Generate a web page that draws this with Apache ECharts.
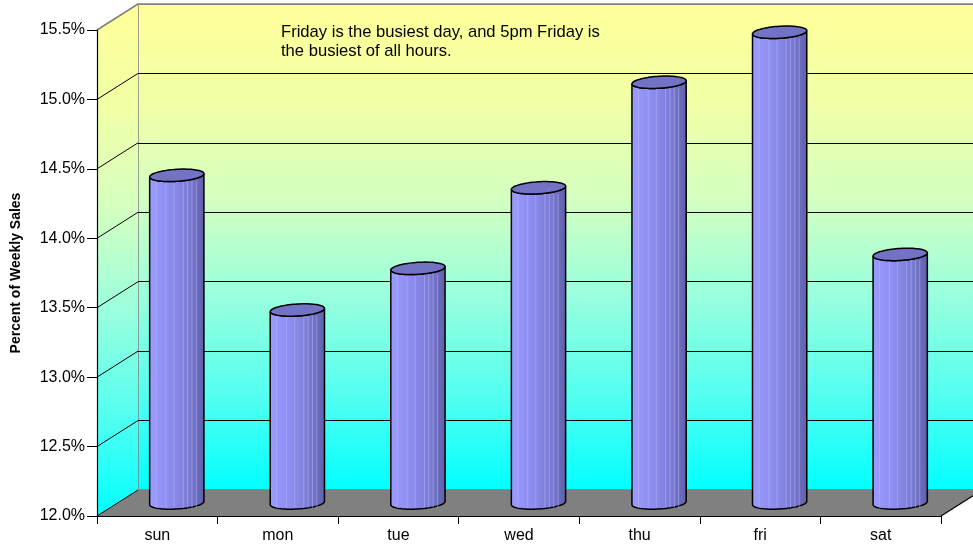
<!DOCTYPE html>
<html>
<head>
<meta charset="utf-8">
<title>Percent of Weekly Sales</title>
<script src="https://cdn.jsdelivr.net/npm/echarts@6/dist/echarts.min.js"></script>
<style>
  html, body { margin: 0; padding: 0; background: #fff; }
  #main { width: 973px; height: 548px; }
</style>
</head>
<body>
<div id="main"></div>
<script>
// 数据
var days = ['sun', 'mon', 'tue', 'wed', 'thu', 'fri', 'sat'];
var weeklyShare = [14.36, 13.39, 13.69, 14.27, 15.03, 15.39, 13.79];
var yTicks = [12.0, 12.5, 13.0, 13.5, 14.0, 14.5, 15.0, 15.5];
var noteLines = ['Friday is the busiest day, and 5pm Friday is', 'the busiest of all hours.'];

// 3D 斜投影偏移（前平面 -> 后墙）
var DX = 41, DY = -26;
var FONT = 'Liberation Sans, Arial, sans-serif';

var wallGradient = new echarts.graphic.LinearGradient(0, 0, 0, 1, [
  { offset: 0, color: '#FFFF99' },
  { offset: 0.2, color: '#F2FFA6' },
  { offset: 0.4, color: '#D4FFC0' },
  { offset: 0.6, color: '#99FFDD' },
  { offset: 0.8, color: '#55FFF0' },
  { offset: 1, color: '#00FFFF' }
]);

// 侧墙 + 地板
function renderBox(params, api) {
  var cs = params.coordSys;
  var xl = cs.x, xr = cs.x + cs.width;
  var yTop = api.coord([0, yTicks[yTicks.length - 1]])[1];
  var yBot = api.coord([0, yTicks[0]])[1];
  var children = [];

  children.push({
    type: 'polygon',
    shape: { points: [[xl, yTop], [xl + DX, yTop + DY], [xl + DX, yBot + DY], [xl, yBot]] },
    style: { fill: wallGradient, stroke: null }
  });
  // 侧墙网格线
  for (var i = 1; i < yTicks.length - 1; i++) {
    var y = api.coord([0, yTicks[i]])[1];
    children.push({
      type: 'line',
      shape: { x1: xl, y1: y, x2: xl + DX, y2: y + DY },
      style: { stroke: '#000', lineWidth: 1 }
    });
  }
  children.push({
    type: 'line',
    shape: { x1: xl, y1: yTop, x2: xl + DX, y2: yTop + DY },
    style: { stroke: '#808080', lineWidth: 1.5 }
  });
  // 地板
  children.push({
    type: 'polygon',
    shape: { points: [[xl, yBot], [xl + DX, yBot + DY], [xr + DX, yBot + DY], [xr, yBot]] },
    style: { fill: '#808080', stroke: null }
  });
  children.push({
    type: 'line',
    shape: { x1: xr, y1: yBot, x2: xr + DX, y2: yBot + DY },
    style: { stroke: '#000', lineWidth: 1.2 }
  });
  children.push({
    type: 'line',
    shape: { x1: xl, y1: yBot, x2: xl + DX, y2: yBot + DY },
    style: { stroke: '#000', lineWidth: 1 }
  });
  return { type: 'group', children: children };
}

// 圆柱
function renderCylinder(params, api) {
  var idx = api.value(0);
  var top = api.coord([idx, api.value(1)]);
  var base = api.coord([idx, yTicks[0]]);
  var rx = api.size([1, 0])[0] * 0.225;
  var ry = 6;
  var tilt = 0.06;
  var cx = top[0] + DX / 2 - 1;
  var ty = top[1] + DY / 2;
  var by = base[1] + DY / 2;

  function ell(cy, t) {
    return [cx + rx * Math.cos(t), cy + ry * Math.sin(t) - rx * Math.cos(t) * tilt];
  }

  var body = [];
  var n = 40, k;
  for (k = 0; k <= n; k++) body.push(ell(by, Math.PI - Math.PI * k / n));
  for (k = 0; k <= n; k++) body.push(ell(ty, Math.PI * k / n));
  var cap = [];
  for (k = 0; k < 2 * n; k++) cap.push(ell(ty, Math.PI * k / n));

  var children = [{
    type: 'polygon',
    shape: { points: body },
    style: {
      fill: new echarts.graphic.LinearGradient(0, 0, 1, 0, [
        { offset: 0, color: '#9C9CFF' },
        { offset: 0.35, color: '#8E8EF2' },
        { offset: 0.7, color: '#7C7CD6' },
        { offset: 1, color: '#5E5EA8' }
      ]),
      stroke: '#000',
      lineWidth: 1.5
    }
  }];
  // 柱面竖条纹
  var stripes = [0.12, 0.3, 0.45, 0.62, 0.7, 0.78, 0.86];
  for (k = 0; k < stripes.length; k++) {
    var sx = cx - rx + 2 * rx * stripes[k];
    children.push({
      type: 'line',
      shape: { x1: sx, y1: ty + ry, x2: sx, y2: by + ry * 0.8 },
      style: { stroke: 'rgba(190,190,255,0.45)', lineWidth: 1 }
    });
  }
  children.push({
    type: 'polygon',
    shape: { points: cap },
    style: { fill: '#7373C6', stroke: '#000', lineWidth: 1.5 }
  });
  return { type: 'group', children: children };
}

var chart = echarts.init(document.getElementById('main'));

chart.setOption({
  backgroundColor: '#fff',
  animation: false,
  grid: [
    { left: 97, top: 30, width: 844, height: 486, outerBoundsMode: 'none', containLabel: false },
    {
      left: 97 + DX, top: 30 + DY, width: 844, height: 486,
      outerBoundsMode: 'none', containLabel: false,
      show: true, backgroundColor: wallGradient, borderColor: '#808080', borderWidth: 1.5
    }
  ],
  xAxis: [
    {
      type: 'category', gridIndex: 0, data: days, z: 5,
      axisLine: { lineStyle: { color: '#000', width: 1.2 } },
      axisTick: { show: true, length: 8, lineStyle: { color: '#000' } },
      axisLabel: { color: '#000', fontSize: 16, fontFamily: FONT, margin: 12 }
    },
    { type: 'category', gridIndex: 1, data: days, show: false }
  ],
  yAxis: [
    {
      type: 'value', gridIndex: 0, z: 5,
      min: yTicks[0], max: yTicks[yTicks.length - 1], interval: 0.5,
      name: 'Percent of Weekly Sales', nameLocation: 'middle', nameGap: 74,
      nameTextStyle: { color: '#000', fontSize: 14, fontWeight: 'bold', fontFamily: FONT },
      axisLine: { show: true, lineStyle: { color: '#000', width: 1.2 } },
      axisTick: { show: true, length: 10, lineStyle: { color: '#000' } },
      axisLabel: {
        color: '#000', fontSize: 16, fontFamily: FONT, margin: 12,
        formatter: function (v) { return v.toFixed(1) + '%'; }
      },
      splitLine: { show: false }
    },
    {
      type: 'value', gridIndex: 1,
      min: yTicks[0], max: yTicks[yTicks.length - 1], interval: 0.5,
      axisLine: { show: false }, axisTick: { show: false }, axisLabel: { show: false },
      splitLine: {
        show: true,
        lineStyle: {
          color: ['#808080', '#000', '#000', '#000', '#000', '#000', '#000', '#808080'],
          width: 1
        }
      }
    }
  ],
  graphic: [{
    type: 'text', left: 281, top: 23, z: 10,
    style: {
      text: noteLines.join('\n'), fill: '#000',
      font: '16.6px ' + FONT, lineHeight: 19
    }
  }],
  series: [
    {
      type: 'custom', xAxisIndex: 0, yAxisIndex: 0, z: 1, silent: true,
      renderItem: renderBox, data: [[0, yTicks[0]]]
    },
    {
      type: 'custom', xAxisIndex: 0, yAxisIndex: 0, z: 3,
      renderItem: renderCylinder,
      data: weeklyShare.map(function (v, i) { return [i, v]; })
    }
  ]
});
</script>
</body>
</html>
